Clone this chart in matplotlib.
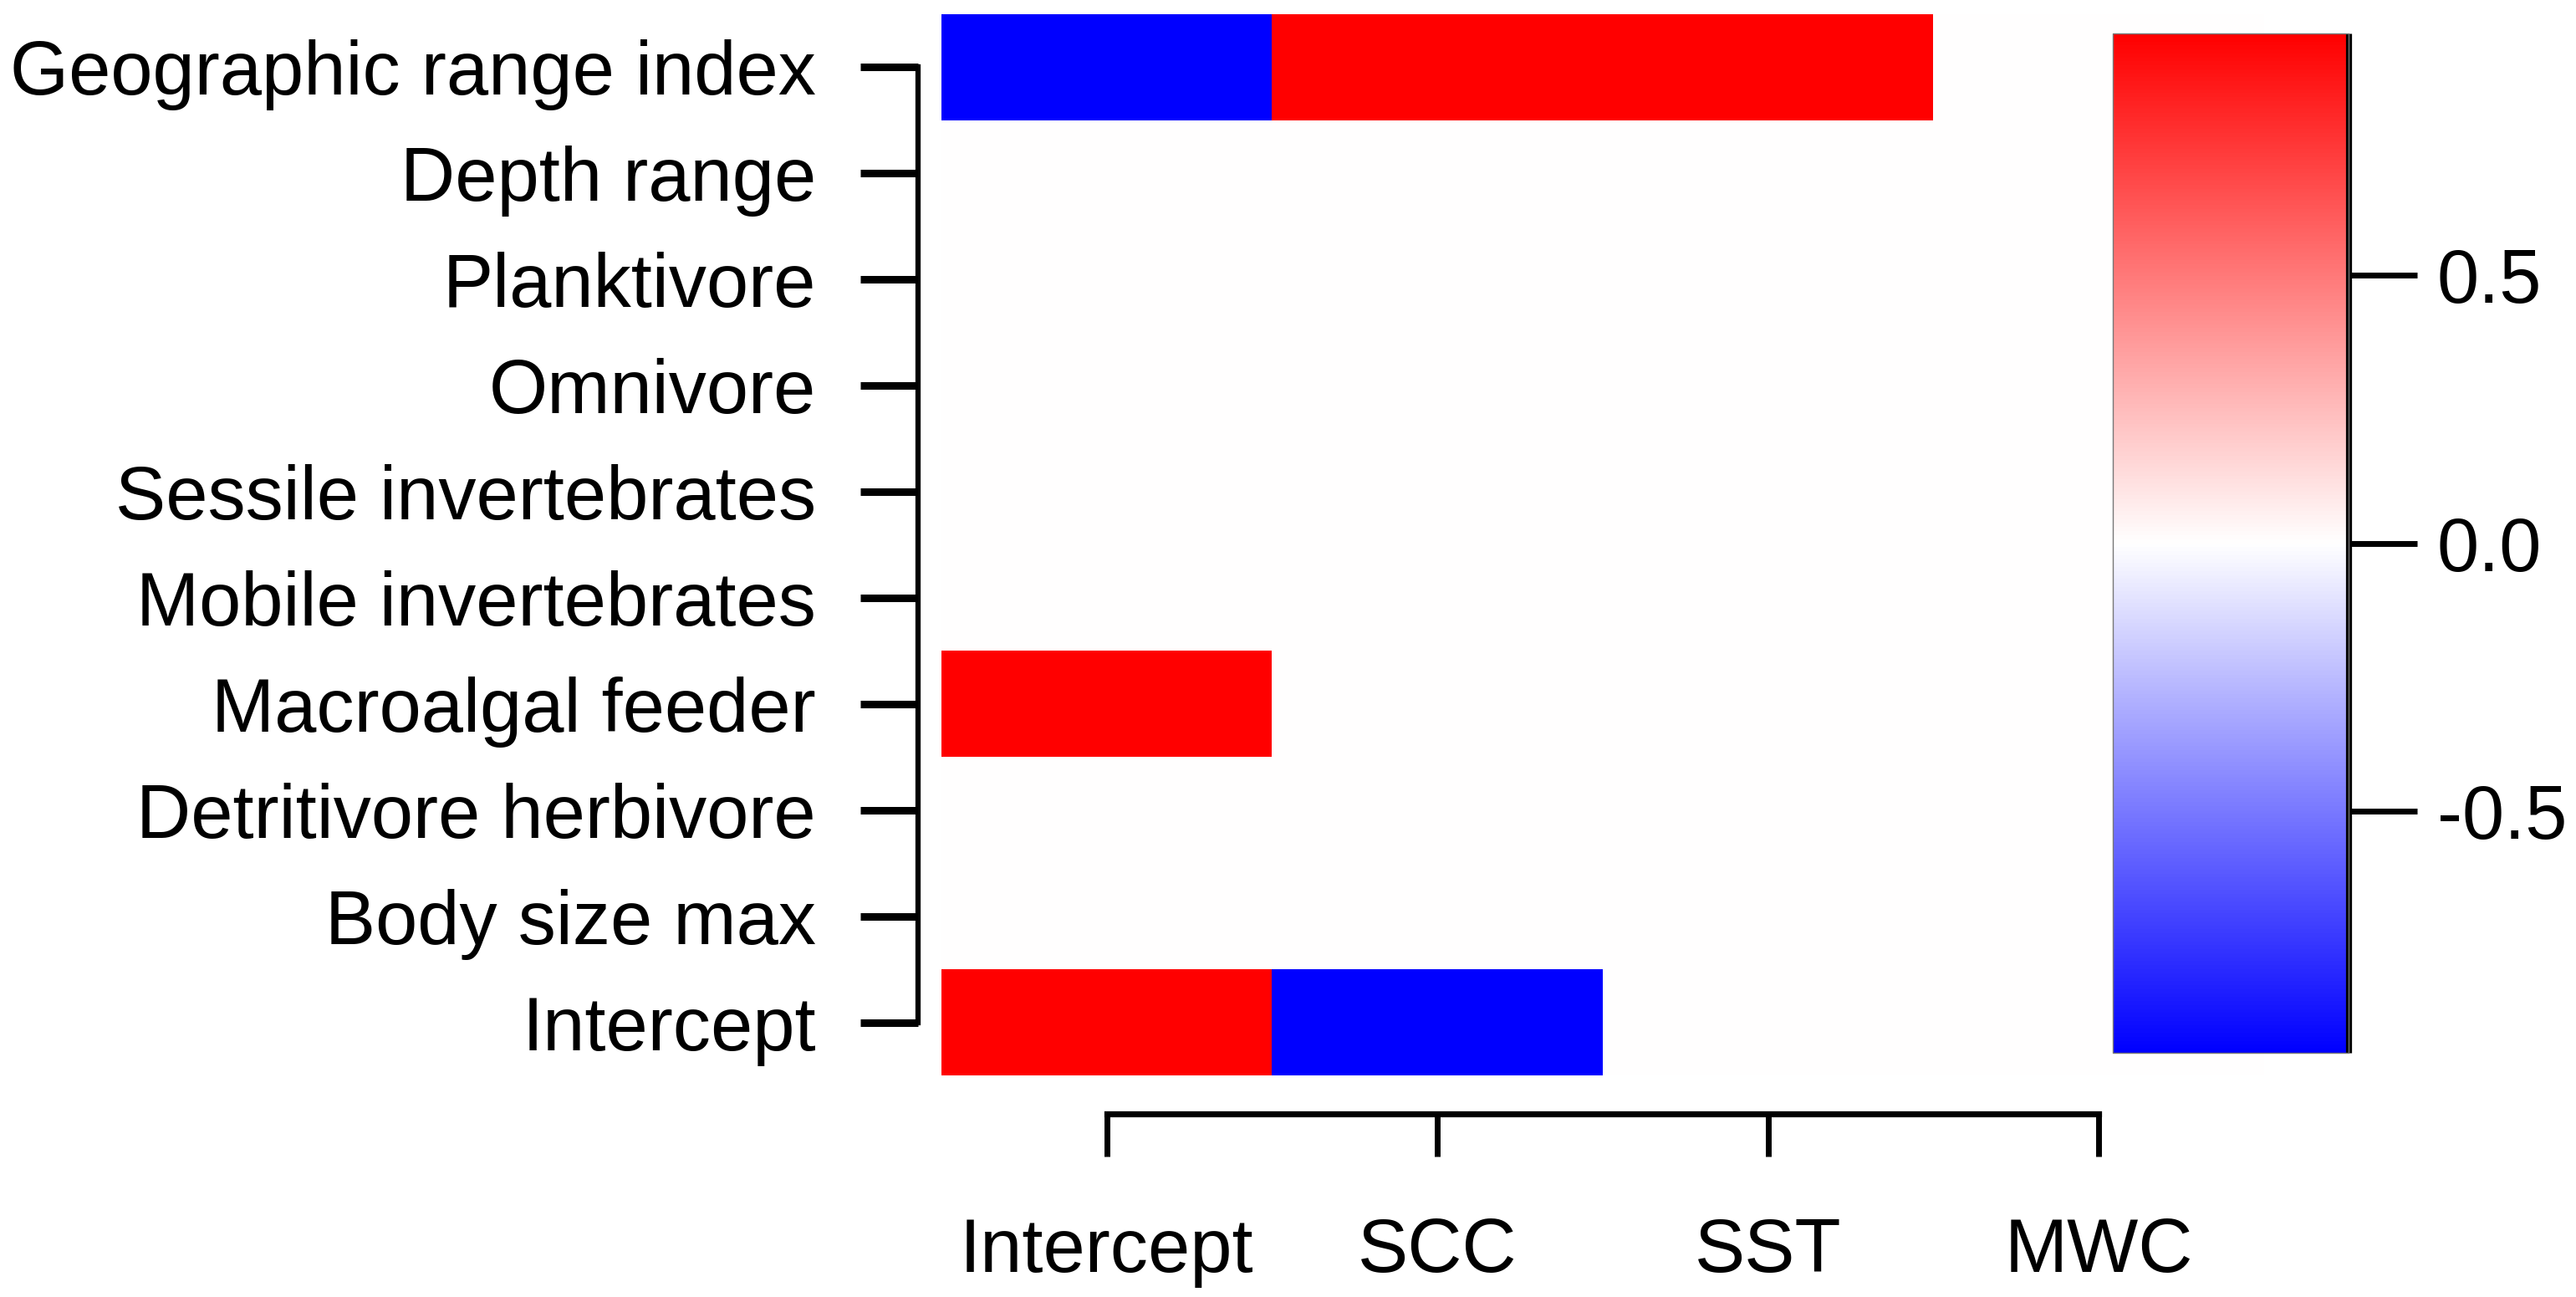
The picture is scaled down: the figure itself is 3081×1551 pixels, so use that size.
import numpy as np
import matplotlib
matplotlib.use('Agg')
import matplotlib.pyplot as plt
from matplotlib.colors import LinearSegmentedColormap, Normalize

plt.rcParams['font.family'] = ['Liberation Sans', 'DejaVu Sans']
plt.rcParams['axes.unicode_minus'] = False

# ---- data ----
row_labels = ["Geographic range index", "Depth range", "Planktivore", "Omnivore",
              "Sessile invertebrates", "Mobile invertebrates", "Macroalgal feeder",
              "Detritivore herbivore", "Body size max", "Intercept"]
col_labels = ["Intercept", "SCC", "SST", "MWC"]

intercept_col = [-0.95, 0, 0, 0, 0, 0, 0.95, 0, 0, 0.95]
scc_col = [0.95, 0, 0, 0, 0, 0, 0, 0, 0, -0.95]
sst_col = [0.95, 0, 0, 0, 0, 0, 0, 0, 0, 0]
mwc_col = [0, 0, 0, 0, 0, 0, 0, 0, 0, 0]

cbar_ticks = [-0.5, 0.0, 0.5]
vmin, vmax = -0.95, 0.95

matrix = np.column_stack([intercept_col, scc_col, sst_col, mwc_col])

# ---- figure ----
W, H = 3081, 1551
fig = plt.figure(figsize=(W / 100, H / 100), dpi=100)

cmap = LinearSegmentedColormap.from_list("bwr_pure", ["#0000ff", "#ffffff", "#ff0000"])
norm = Normalize(vmin=vmin, vmax=vmax)

ax = fig.add_axes([1126 / W, 1 - 1286 / H, 1582 / W, 1269 / H])
im = ax.imshow(matrix, cmap=cmap, norm=norm, aspect='auto', interpolation='nearest')

ax.set_xticks(range(len(col_labels)))
ax.set_xticklabels(col_labels)
ax.set_yticks(range(len(row_labels)))
ax.set_yticklabels(row_labels)

for s in ['top', 'right']:
    ax.spines[s].set_visible(False)
ax.spines['left'].set_position(('outward', 20))
ax.spines['left'].set_bounds(0, len(row_labels) - 1)
ax.spines['left'].set_linewidth(4.5)
ax.spines['bottom'].set_position(('outward', 33))
ax.spines['bottom'].set_bounds(0, len(col_labels) - 1)
ax.spines['bottom'].set_linewidth(5.2)

ax.tick_params(axis='y', direction='out', length=50, width=6.5, pad=38, labelsize=65)
ax.tick_params(axis='x', direction='out', length=37, width=5, pad=52, labelsize=65)

# ---- colorbar ----
cax = fig.add_axes([2527 / W, 1 - 1259 / H, 282 / W, 1219 / H])
cb = fig.colorbar(im, cax=cax, ticks=cbar_ticks)
cb.ax.set_yticklabels([f"{t:.1f}" for t in cbar_ticks])
cb.outline.set_linewidth(1.0)
cb.outline.set_edgecolor('#777777')
cax.tick_params(axis='y', direction='out', length=59, width=5, pad=17, labelsize=65)
cax.plot([1, 1], [0, 1], transform=cax.transAxes, color='black', lw=5.2,
         clip_on=False, solid_capstyle='butt')

fig.savefig('out.png', dpi=100)
